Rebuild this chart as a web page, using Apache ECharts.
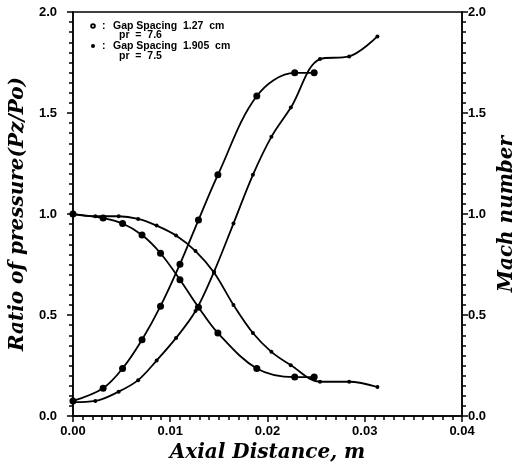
<!DOCTYPE html>
<html>
<head>
<meta charset="utf-8">
<script src="https://cdn.jsdelivr.net/npm/echarts@6/dist/echarts.min.js"></script>
<style>html,body{margin:0;padding:0;background:#fff}#c{width:525px;height:468px}</style>
</head>
<body>
<div id="c"></div>
<script>
// Gap spacing 1.27 cm (pr = 7.6)
var xA = [0, 0.0031, 0.0051, 0.0071, 0.0090, 0.0110, 0.0129, 0.0149, 0.0189, 0.0228, 0.0248];
var pressureA = [1.0, 0.98, 0.953, 0.896, 0.806, 0.675, 0.539, 0.411, 0.236, 0.193, 0.193];
var machA = [0.075, 0.138, 0.236, 0.378, 0.544, 0.752, 0.970, 1.194, 1.584, 1.699, 1.699];
// Gap spacing 1.905 cm (pr = 7.5)
var xB = [0, 0.0023, 0.0047, 0.0067, 0.0086, 0.0106, 0.0126, 0.0145, 0.0165, 0.0185, 0.0204, 0.0224, 0.0254, 0.0284, 0.0313];
var pressureB = [1.0, 0.989, 0.989, 0.976, 0.943, 0.894, 0.817, 0.711, 0.55, 0.411, 0.318, 0.252, 0.170, 0.170, 0.144];
var machB = [0.069, 0.075, 0.121, 0.178, 0.275, 0.387, 0.52, 0.714, 0.953, 1.194, 1.382, 1.527, 1.767, 1.780, 1.879];
// axis ticks
var xTicks = ['0.00', '0.01', '0.02', '0.03', '0.04'];
var yTicks = ['0.0', '0.5', '1.0', '1.5', '2.0'];
// legend texts
var legendLines = ['Gap Spacing  1.27  cm', 'pr  =  7.6', 'Gap Spacing  1.905  cm', 'pr  =  7.5'];

function pairs(xs, ys) { return xs.map(function (x, i) { return [x, ys[i]]; }); }

var tickFont = { fontFamily: 'Liberation Sans', fontWeight: 'bold', fontSize: 13, color: '#000' };
var titleFont = { fontFamily: 'DejaVu Serif', fontStyle: 'italic', fontWeight: 'bold', fontSize: 20, color: '#000' };
var axisLine = { show: true, lineStyle: { color: '#000', width: 1.5 } };

function yAxis(pos, name, gap, margin) {
  return {
    type: 'value', position: pos, min: 0, max: 2, interval: 0.5,
    name: name, nameLocation: 'middle', nameGap: gap, nameRotate: 90,
    nameTextStyle: titleFont,
    axisLine: axisLine,
    axisTick: { show: true, length: 6, lineStyle: { color: '#000', width: 1.5 } },
    minorTick: { show: true, splitNumber: 10, length: 4, lineStyle: { color: '#000', width: 1.5 } },
    splitLine: { show: false },
    axisLabel: Object.assign({ margin: margin, formatter: function (v) { return yTicks[Math.round(v / 0.5)]; } }, tickFont)
  };
}

var lineStyle = { color: '#000', width: 1.8 };
function series(name, xs, ys, axis, size) {
  return {
    name: name, type: 'line', yAxisIndex: axis, smooth: 0.35,
    data: pairs(xs, ys), symbol: 'circle', symbolSize: size,
    itemStyle: { color: '#000' }, lineStyle: lineStyle, z: 3
  };
}

var legFont = 'bold 10.5px "Liberation Sans"';
function legText(x, y, t) {
  return { type: 'text', x: x, y: y, style: { text: t, font: legFont, fill: '#000', verticalAlign: 'middle', textVerticalAlign: 'middle' } };
}

var chart = echarts.init(document.getElementById('c'), null, { renderer: 'canvas' });
chart.setOption({
  animation: false,
  grid: { left: 72, right: 50, top: 12, bottom: 50, show: true, borderColor: '#000', borderWidth: 1.5 },
  xAxis: {
    type: 'value', min: 0, max: 0.04, interval: 0.01,
    name: 'Axial Distance, m', nameLocation: 'middle', nameGap: 26, nameTextStyle: titleFont,
    axisLine: axisLine,
    axisTick: { show: true, length: 6, lineStyle: { color: '#000', width: 1.5 } },
    minorTick: { show: true, splitNumber: 10, length: 4, lineStyle: { color: '#000', width: 1.5 } },
    splitLine: { show: false },
    axisLabel: Object.assign({ margin: 9, formatter: function (v) { return xTicks[Math.round(v / 0.01)]; } }, tickFont)
  },
  yAxis: [yAxis('left', 'Ratio of pressure(Pz/Po)', 40, 16), yAxis('right', 'Mach number', 24, 6)],
  series: [
    series('p127', xA, pressureA, 0, 7),
    series('m127', xA, machA, 1, 7),
    series('p1905', xB, pressureB, 0, 4),
    series('m1905', xB, machB, 1, 4)
  ],
  graphic: [
    { type: 'circle', shape: { cx: 93, cy: 26, r: 2.8 }, style: { fill: '#000' } },
    { type: 'circle', shape: { cx: 93, cy: 26, r: 0.9 }, style: { fill: '#fff' } },
    legText(102, 26, ':'),
    legText(113, 26, legendLines[0]),
    legText(119, 35, legendLines[1]),
    { type: 'circle', shape: { cx: 93, cy: 46, r: 2 }, style: { fill: '#000' } },
    legText(102, 46, ':'),
    legText(113, 46, legendLines[2]),
    legText(119, 56, legendLines[3])
  ]
});
</script>
</body>
</html>
